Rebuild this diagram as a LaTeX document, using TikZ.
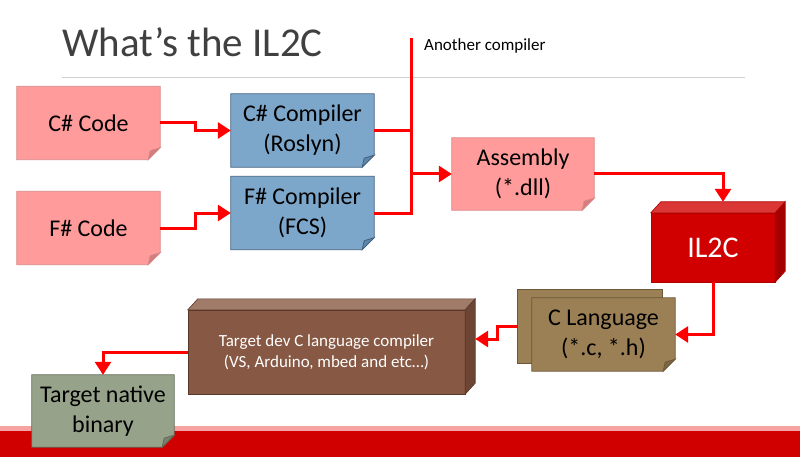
\documentclass[tikz,border=0pt]{standalone}
\usepackage{fontspec}
\setmainfont{Carlito}
\usetikzlibrary{calc,arrows.meta,backgrounds}
\definecolor{lred}{HTML}{FF0000}
\definecolor{pinkf}{HTML}{FF9B9B}
\definecolor{pinkb}{HTML}{D98686}
\definecolor{pinkfold}{HTML}{D27E7E}
\definecolor{bluef}{HTML}{7DA7CA}
\definecolor{blueb}{HTML}{41607F}
\definecolor{bluefold}{HTML}{5F85A8}
\definecolor{ilf}{HTML}{D00000}
\definecolor{ilt}{HTML}{DB3636}
\definecolor{ils}{HTML}{A50000}
\definecolor{ilb}{HTML}{B00000}
\definecolor{clf}{HTML}{9C8055}
\definecolor{clb}{HTML}{6B5838}
\definecolor{clfold}{HTML}{7D6644}
\definecolor{tdf}{HTML}{875843}
\definecolor{tdt}{HTML}{A07B69}
\definecolor{tds}{HTML}{6C4534}
\definecolor{tdb}{HTML}{5A3828}
\definecolor{tnf}{HTML}{96A38A}
\definecolor{tnbd}{HTML}{5F6B55}
\definecolor{tnfold}{HTML}{76826B}
\definecolor{bandr}{HTML}{D00000}
\definecolor{bandp}{HTML}{F5A3A3}
\definecolor{titlegray}{HTML}{404040}
\definecolor{rulegray}{HTML}{D0D0D0}
\newcommand\foldshape[4]{%
  \path[fill=#2,draw=#3,line width=0.8pt] (#1.north west) -- (#1.north east) -- ($(#1.south east)+(0,-12)$) -- ($(#1.south east)+(-12,0)$) -- (#1.south west) -- cycle;
  \path[fill=#4,draw=#3,line width=0.8pt] ($(#1.south east)+(0,-12)$) -- ($(#1.south east)+(-12,0)$) -- ($(#1.south east)+(-10,-9)$) -- cycle;}
\newcommand\boxthree[5]{%
  \path[fill=#2,draw=#5,line width=0.6pt] (#1.south west) rectangle (#1.north east);
  \path[fill=#3,draw=#5,line width=0.6pt] (#1.north west) -- (#1.north east) -- ($(#1.north east)+(10,-11)$) -- ($(#1.north west)+(10,-11)$) -- cycle;
  \path[fill=#4,draw=#5,line width=0.6pt] (#1.north east) -- ($(#1.north east)+(10,-11)$) -- ($(#1.south east)+(10,-11)$) -- (#1.south east) -- cycle;}
\begin{document}
\begin{tikzpicture}[x=1pt,y=-1pt,
  box/.style={inner sep=0pt, minimum width=143pt, minimum height=73pt, align=center, font=\fontsize{24}{30}\selectfont},
  link/.style={draw=lred, line width=3pt},
  arr/.style={link, -{Triangle[length=13pt,width=16pt]}}]
\useasboundingbox (0,0) rectangle (800,457);
% title
\node[anchor=base west, inner sep=0pt, font=\fontsize{41}{48}\selectfont, text=titlegray] (title) at (62,57) {What’s the IL2C};
\draw[rulegray, line width=1pt] (62,78) -- (745,78);
\node[anchor=base west, inner sep=0pt, font=\fontsize{17}{20}\selectfont] (another) at (424,51) {Another compiler};
% nodes
\node[box] (ccode) at (88.5,123) {C\# Code};
\node[box] (fcode) at (88.5,228) {F\# Code};
\node[box] (ccomp) at (302.5,130.5) {C\# Compiler\\(Roslyn)};
\node[box] (fcomp) at (302.5,213) {F\# Compiler\\(FCS)};
\node[box, minimum width=142pt, minimum height=72pt] (asm) at (523,174) {Assembly\\(*.dll)};
\node[box, minimum width=124pt, minimum height=69pt, text=white, font=\fontsize{30}{36}\selectfont] (il2c) at (713,247.5) {IL2C};
\node[box, minimum width=144pt] (clangb) at (590,326.5) {};
\node[box] (clang) at (603.5,334.5) {C Language\\(*.c, *.h)};
\node[box, minimum width=277pt, minimum height=84pt, text=white, font=\fontsize{17}{21}\selectfont] (tdc) at (326.5,352) {Target dev C language compiler\\(VS, Arduino, mbed and etc…)};
\node[box, minimum width=142pt, minimum height=72pt] (tnb) at (103,411) {Target native\\binary};
% shapes behind
\begin{scope}[on background layer]
  \fill[bandp] (0,425.5) rectangle (800,431);
  \fill[bandr] (0,431) rectangle (800,457);
  \foldshape{ccode}{pinkf}{pinkb}{pinkfold}
  \foldshape{fcode}{pinkf}{pinkb}{pinkfold}
  \foldshape{ccomp}{bluef}{blueb}{bluefold}
  \foldshape{fcomp}{bluef}{blueb}{bluefold}
  \foldshape{asm}{pinkf}{pinkb}{pinkfold}
  \boxthree{il2c}{ilf}{ilt}{ils}{ilb}
  \path[fill=clf,draw=clb,line width=0.8pt] (clangb.south west) rectangle (clangb.north east);
  \foldshape{clang}{clf}{clb}{clfold}
  \boxthree{tdc}{tdf}{tdt}{tds}{tdb}
  \foldshape{tnb}{tnf}{tnbd}{tnfold}
\end{scope}
% connectors
\coordinate (bustop) at (411,38);
\coordinate (il2cin) at ($(il2c.north)+(10,-11)$);
\coordinate (tdcin) at ($(tdc.east)+(10,-13)$);
\draw[arr] (ccode.east) -- ++(35,0) |- (ccomp.west);
\draw[arr] (fcode.east) -- ++(35,0) |- (fcomp.west);
\draw[link] (ccomp.east) -- (ccomp.east -| bustop);
\draw[link] (bustop) |- (fcomp.east);
\draw[arr] (asm.west -| bustop) -- (asm.west);
\draw[arr] (asm.east) -| (il2cin);
\draw[arr] (il2c.south) |- (clang.east);
\draw[arr] (clangb.west) -- ++(-20,0) |- (tdcin);
\draw[arr] (tdc.west) -| (tnb.north);
\end{tikzpicture}
\end{document}
